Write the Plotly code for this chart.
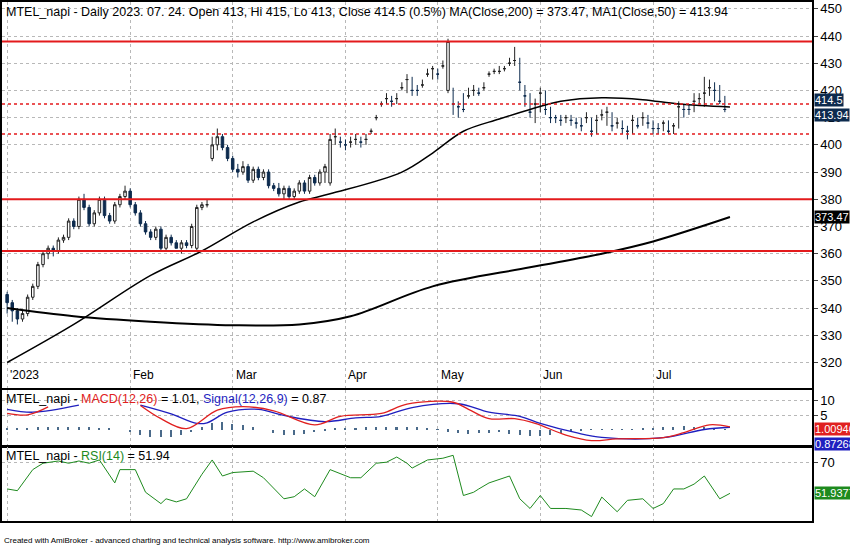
import plotly.graph_objects as go

# ---- price data (bar index 0 = 2023-01-02) ----
o = [345,342,339,336,338,344,348,356,360,362,361,365,366,372,370,380,377,371,375,380,374,372,378,381,383,378,375,371,368,366,369,362,366,364,362,364,363,362,377,378,395,400,403,399,395,391,390,392,387,391,388,390,385,384,382,384,381,383,386,383,388,386,390,386,403,401,400,401,402,401,402,405,410,415,417,416,417,421,424,420,420,422,426,428,426,429,420,415,414,413,418,420,419,421,426,427,427,428,430,431,423,418,412,415,419,413,410,410,409,410,409,408,407,410,405,409,411,412,407,408,406,405,409,407,410,408,406,406,408,405,407,414,413,413,416,417,419,421,420,416,413]
h = [346,343,340,339,345,349,357,361,363,363,366,367,373,373,381,382,378,376,381,381,375,379,382,385,384,379,376,372,369,370,370,367,367,365,365,365,371,378,379,380,403,406,404,400,396,393,394,393,392,392,391,391,386,386,385,385,384,387,387,389,389,391,393,404,406,403,402,403,404,403,404,406,411,416,419,418,419,423,426,425,422,424,428,429,428,431,439,421,416,419,421,422,421,423,427,428,429,429,432,436,432,422,419,417,421,420,414,411,411,411,411,410,410,412,410,411,413,414,412,410,409,407,411,410,412,411,409,408,409,409,408,416,415,415,419,419,425,424,423,422,418,416]
l = [338,335,334,335,337,343,347,355,358,359,360,364,365,369,369,376,370,370,374,373,371,371,377,380,377,374,370,367,365,365,361,361,363,362,360,362,362,361,376,377,394,398,398,394,390,388,389,386,386,387,387,384,383,381,380,380,380,382,382,382,385,385,386,385,400,399,398,399,400,399,400,404,409,414,415,414,415,420,419,418,418,421,425,424,424,428,419,411,410,412,417,418,418,420,425,426,426,427,429,429,420,414,410,408,412,411,408,408,407,408,407,406,405,408,403,404,409,407,405,406,404,402,404,406,407,406,404,404,405,404,404,406,410,411,412,415,414,418,416,415,412,412]
c = [342,339,336,338,344,348,356,360,362,361,365,366,372,370,380,377,371,375,380,374,372,378,381,383,378,375,371,368,366,369,362,366,364,362,364,363,370,377,378,378,400,403,399,395,391,390,392,387,391,388,390,385,384,382,384,381,383,386,383,388,386,390,392,402,403,401,400,401,402,401,402,405,410,415,417,416,417,421,424,420,420,422,426,428,426,429,438,415,414,413,418,420,419,421,426,427,427,428,430,431,423,418,412,415,419,413,410,410,409,410,409,408,407,410,405,409,411,412,407,408,406,405,409,407,410,408,406,406,408,405,407,414,413,413,416,417,419,421,420,416,413,414.5]

ma200_x = [0, 13, 28, 44, 57, 67, 83, 102, 116, 126, 141]
ma200_y = [340, 337, 335, 333.7, 334, 337, 348, 355, 360, 364.5, 373.47]
ma50_x = [0, 13, 28, 38, 48, 57, 63, 77, 83, 89, 96, 102, 108, 116, 124, 131, 141]
ma50_y = [320, 334, 352, 361, 371.7, 379, 382, 390, 397, 405, 409.5, 413, 416, 417.3, 416.6, 415, 413.94]

solid_levels = [438, 380, 361]
dotted_levels = [415, 404]

month_idx = [0, 24, 44, 66, 84, 104, 126]
month_lbl = ["'2023", "Feb", "Mar", "Apr", "May", "Jun", "Jul"]

# ---- MACD ----
macd_x = [0, 4, 8, None, 26, 30, 35, 41, 46, 52, 60, 65, 73, 78, 87, 90, 94, 99, 103, 109, 114, 119, 128, 132, 137, 141]
macd_y = [5.6, 5.1, 7.8, None, 8.3, 3.8, 0.4, 6.7, 7.9, 6.5, 1.7, 4.6, 5.6, 8.8, 9.4, 7.0, 3.8, 3.8, 2.2, -1.8, -3.7, -3.1, -2.7, -1.0, 1.7, 1.01]
sig_x = [0, 5, 14, None, 26, 32, 37, 39, 43, 49, 54, 62, 68, 73, 79, 88, 94, 100, 104, 111, 116, 128, 136, 141]
sig_y = [7.0, 6.0, 8.4, None, 8.4, 5.4, 2.2, 2.4, 6.0, 7.0, 4.9, 2.8, 4.1, 4.6, 7.6, 8.9, 6.0, 4.6, 2.2, -1.0, -2.6, -2.7, 0.1, 0.87]
hist = [0.5,0.6,0.7,0.8,0.9,1.0,1.0,0.9,0.8,0.6,0.3,0.0,-0.8,-1.6,-2.3,-2.6,-2.4,-1.8,-0.8,0.8,2.2,2.6,2.0,1.5,0.8,0.0,-1.0,-1.6,-1.8,-1.5,-0.9,-0.2,0.4,0.6,0.7,0.8,0.8,0.9,1.0,0.9,0.8,0.6,0.2,-0.6,-1.2,-1.5,-1.2,-1.0,-0.9,-1.4,-1.9,-2.1,-2.0,-1.6,-1.0,-0.5,-0.2,0.1,0.2,0.2,0.1,0.1,0.3,0.6,0.9,1.1,1.2,1.1,0.8,0.5,0.2]

# ---- RSI ----
rsi_x = [0,2,5,7,10,12,14,16,18,21,22,25,27,30,31,33,35,38,40,42,44,48,50,54,56,58,60,63,67,69,72,74,76,78,79,82,85,87,89,91,92,94,98,100,102,104,106,109,112,114,116,119,121,124,126,128,130,132,134,136,139,141]
rsi_y = [54.5,53.5,65.7,69.4,70.7,69.4,70.7,69.4,71.3,58,65.7,65.7,52.6,46,48.8,47,48.8,63,71.3,62,64,64.8,61,48.8,50,54.5,50,65.7,61,61,69.4,70,73,69.4,66.6,71.3,72.3,74,50.7,52.6,54.5,58,62,48.8,43.2,50.7,43.2,43.2,42.3,38.5,49.8,41.3,47.9,48.8,43.2,46,54.5,54.5,57.3,62,48.8,51.94]

navy = "#0d2b4e"
n = min(len(o), len(h), len(l), len(c))
fig = go.Figure()
fig.add_trace(go.Candlestick(
    x=list(range(n)), open=o[:n], high=h[:n], low=l[:n], close=c[:n],
    increasing=dict(fillcolor="white", line=dict(color="#222", width=1)),
    decreasing=dict(fillcolor=navy, line=dict(color=navy, width=1)),
    whiskerwidth=0, yaxis="y", xaxis="x"))
fig.add_trace(go.Scatter(x=ma200_x, y=ma200_y, mode="lines", line=dict(color="black", width=2, shape="spline"), yaxis="y"))
fig.add_trace(go.Scatter(x=ma50_x, y=ma50_y, mode="lines", line=dict(color="black", width=1.5, shape="spline"), yaxis="y"))
for v in solid_levels:
    fig.add_hline(y=v, line=dict(color="#e31a1c", width=2), yref="y")
for v in dotted_levels:
    fig.add_hline(y=v, line=dict(color="#e31a1c", width=1.5, dash="dot"), yref="y")

fig.add_trace(go.Bar(x=list(range(0, 2 * len(hist), 2)), y=hist, width=0.3,
                     marker=dict(color="#4a6a8a", line_width=0), yaxis="y2", xaxis="x2"))
fig.add_trace(go.Scatter(x=sig_x, y=sig_y, mode="lines", line=dict(color="#1f1fbf", width=1.3, shape="spline"), yaxis="y2", xaxis="x2", connectgaps=False))
fig.add_trace(go.Scatter(x=macd_x, y=macd_y, mode="lines", line=dict(color="#e02020", width=1.3, shape="spline"), yaxis="y2", xaxis="x2", connectgaps=False))
fig.add_trace(go.Scatter(x=rsi_x, y=rsi_y, mode="lines", line=dict(color="#1e8a1e", width=1), yaxis="y3", xaxis="x3"))

grid = dict(showgrid=True, gridcolor="#b8b8b8", griddash="dot", gridwidth=1,
            showline=True, linecolor="black", linewidth=1.5, mirror=True, zeroline=False)
xr = [-1, 157]
xcommon = dict(range=xr, tickvals=month_idx, showticklabels=False, ticks="", **grid)
fig.update_layout(
    width=850, height=546, margin=dict(l=1, r=38, t=0, b=14),
    paper_bgcolor="white", plot_bgcolor="white", showlegend=False,
    font=dict(family="Liberation Sans, Arial", size=13, color="black"),
    xaxis=dict(domain=[0, 1], anchor="y", rangeslider=dict(visible=False), **xcommon),
    xaxis2=dict(domain=[0, 1], anchor="y2", matches="x", **xcommon),
    xaxis3=dict(domain=[0, 1], anchor="y3", matches="x", **xcommon),
    yaxis=dict(domain=[0.272, 1], range=[310.7, 452.5], side="right", dtick=10, ticks="outside", ticklen=4, **grid),
    yaxis2=dict(domain=[0.163, 0.268], range=[-5.4, 13.6], side="right", tickvals=[5, 10], ticks="outside", ticklen=4, **grid),
    yaxis3=dict(domain=[0.02, 0.161], range=[35.7, 79], side="right", tickvals=[70], ticks="outside", ticklen=4, **grid),
    bargap=0,
)

ann = []
ann.append(dict(xref="paper", yref="paper", x=0.002, y=0.999, xanchor="left", yanchor="top", showarrow=False,
                text="MTEL_napi - Daily 2023. 07. 24. Open 413, Hi 415, Lo 413, Close 414.5 (0.5%) MA(Close,200) = 373.47, MA1(Close,50) = 413.94",
                font=dict(size=12.5)))
ann.append(dict(xref="paper", yref="paper", x=0.002, y=0.267, xanchor="left", yanchor="top", showarrow=False,
                text="MTEL_napi - <span style='color:#e02020'>MACD(12,26)</span> = 1.01, <span style='color:#1f1fbf'>Signal(12,26,9)</span> = 0.87",
                font=dict(size=12.5)))
ann.append(dict(xref="paper", yref="paper", x=0.002, y=0.16, xanchor="left", yanchor="top", showarrow=False,
                text="MTEL_napi - <span style='color:#1e8a1e'>RSI(14)</span> = 51.94", font=dict(size=12.5)))
for i, t in zip(month_idx, month_lbl):
    ann.append(dict(xref="x", yref="y", x=i, y=312, xanchor="left", yanchor="bottom", xshift=1, showarrow=False,
                    text=t, font=dict(size=12)))
tags = [("y", 416.6, "414.5", navy), ("y", 410.8, "413.94", navy), ("y", 373.47, "373.47", "black"),
        ("y2", 0.4, "1.00946", "#e02020"), ("y2", -5.0, "0.872687", "#1f1fbf"), ("y3", 51.94, "51.9377", "#1e8a1e")]
for yr, v, t, col in tags:
    ann.append(dict(xref="paper", yref=yr, x=1.003, y=v, xanchor="left", yanchor="middle", showarrow=False,
                    text=t, bgcolor=col, borderpad=0, font=dict(size=11, color="white")))
ann.append(dict(xref="paper", yref="paper", x=0.0, y=-0.003, xanchor="left", yanchor="top", showarrow=False,
                text="Created with AmiBroker - advanced charting and technical analysis software. http://www.amibroker.com",
                font=dict(size=8)))
fig.update_layout(annotations=ann)

fig.write_html("out.html", config={"displayModeBar": False},
               post_script="document.body.style.margin='0';document.body.style.overflow='hidden';")
